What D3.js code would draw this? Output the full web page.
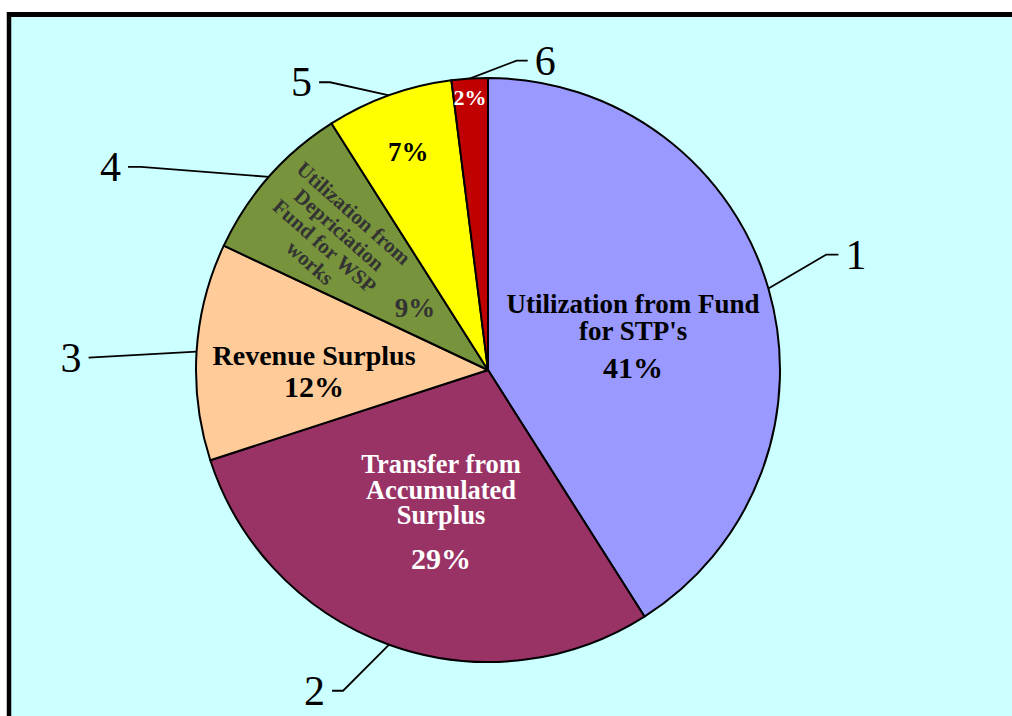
<!DOCTYPE html>
<html>
<head>
<meta charset="utf-8">
<script src="https://d3js.org/d3.v7.min.js"></script>
<style>
  body { margin: 0; background: #fff; }
  svg text { font-family: "Liberation Serif", "Times New Roman", serif; }
</style>
</head>
<body>
<svg id="chart" width="1012" height="716"></svg>
<script>
// ---- data ----
var values     = [41, 29, 12, 9, 7, 2];
var numbers    = ["1", "2", "3", "4", "5", "6"];
var labelLines = [
  ["Utilization from Fund", "for STP's"],
  ["Transfer from", "Accumulated", "Surplus"],
  ["Revenue Surplus"],
  ["Utilization from", "Depriciation", "Fund for WSP", "works"],
  [],
  []
];
var colors     = ["#9999ff", "#993366", "#ffcc99", "#77933c", "#ffff00", "#c00000"];
var textColors = ["#000000", "#ffffff", "#000000", "#333333", "#000000", "#ffffff"];

// ---- layout (label placement, like manual excel labels) ----
// first baseline position: fraction of radius + angle shift (deg) from slice middle
var labR     = [0.534, 0.388, 0.596, 0.309, 0.766, 0.91];
var labShift = [-5.3, 4.7, -2, -5.4, -1.1, -0.3];
var lineH    = [27, 25.5, 0, 0, 0, 0];
var pctGap   = [38, 45, 32, 0, 0, 0];
var textSize = [27, 26.5, 28, 21, 0, 0];
var pctSize  = [30, 30, 30, 27, 27, 22];
// leader elbow offsets from pie edge, and tail length
var elbowDx  = [58, -46, -108, -128, -59, 47];
var elbowDy  = [-34, 46, 6, -10, -13, -18];
var tail     = [12, 11, 0, 13, 11, 11];

var svg = d3.select("#chart");
var cx = 488, cy = 370, r = 292;

// background + border
svg.append("rect").attr("x", 9).attr("y", 14).attr("width", 1010).attr("height", 710)
  .attr("fill", "#ccffff");
svg.append("line").attr("x1", 9).attr("y1", 12).attr("x2", 9).attr("y2", 716)
  .attr("stroke", "#000").attr("stroke-width", 4.5);
svg.append("line").attr("x1", 7).attr("y1", 14.5).attr("x2", 1012).attr("y2", 14.5)
  .attr("stroke", "#000").attr("stroke-width", 5);

var pie = d3.pie().sort(null).value(function(d) { return d; });
var arcs = pie(values);
var arc = d3.arc().innerRadius(0).outerRadius(r);

var g = svg.append("g").attr("transform", "translate(" + cx + "," + cy + ")");

g.selectAll("path.slice")
  .data(arcs)
  .enter().append("path")
  .attr("class", "slice")
  .attr("d", arc)
  .attr("fill", function(d, i) { return colors[i]; })
  .attr("stroke", "#000")
  .attr("stroke-width", 2)
  .attr("stroke-linejoin", "round");

function polar(angleRad, rad) {
  return [rad * Math.sin(angleRad), -rad * Math.cos(angleRad)];
}
function mid(d) { return (d.startAngle + d.endAngle) / 2; }

// leader lines + numbers
arcs.forEach(function(d, i) {
  var p0 = polar(mid(d), r);
  var p1 = [p0[0] + elbowDx[i], p0[1] + elbowDy[i]];
  var right = elbowDx[i] > 0;
  var p2 = [p1[0] + (right ? tail[i] : -tail[i]), p1[1]];
  g.append("path")
    .attr("d", d3.line()([p0, p1, p2]))
    .attr("fill", "none")
    .attr("stroke", "#000")
    .attr("stroke-width", 1.8);
  g.append("text")
    .attr("x", p2[0] + (right ? 7 : -7))
    .attr("y", p2[1] + 14)
    .attr("text-anchor", right ? "start" : "end")
    .attr("font-size", 42)
    .attr("fill", "#000")
    .text(numbers[i]);
});

// labels inside slices
arcs.forEach(function(d, i) {
  var a = mid(d) + labShift[i] * Math.PI / 180;
  var p = polar(a, labR[i] * r);
  var lines = labelLines[i];
  var y = p[1];
  if (i === 3) {
    // rotated block along the radius
    var q = polar(mid(d) - 1.2 * Math.PI / 180, 0.70 * r);
    var rot = mid(d) * 180 / Math.PI - 270;
    var lh = 22;
    var tg = g.append("g").attr("transform", "translate(" + q[0] + "," + q[1] + ") rotate(" + rot + ")");
    lines.forEach(function(t, k) {
      tg.append("text")
        .attr("x", 0)
        .attr("y", (k - (lines.length - 1) / 2) * lh + 7)
        .attr("text-anchor", "middle")
        .attr("font-size", textSize[i])
        .attr("font-weight", "bold")
        .attr("fill", textColors[i])
        .text(t);
    });
  } else {
    lines.forEach(function(t, k) {
      g.append("text")
        .attr("x", p[0])
        .attr("y", p[1] + k * lineH[i])
        .attr("text-anchor", "middle")
        .attr("font-size", textSize[i])
        .attr("font-weight", "bold")
        .attr("fill", textColors[i])
        .text(t);
    });
    if (lines.length) y = p[1] + (lines.length - 1) * lineH[i] + pctGap[i];
  }
  g.append("text")
    .attr("x", p[0])
    .attr("y", y)
    .attr("text-anchor", "middle")
    .attr("font-size", pctSize[i])
    .attr("font-weight", "bold")
    .attr("fill", textColors[i])
    .text(d.value + "%");
});
</script>
</body>
</html>
